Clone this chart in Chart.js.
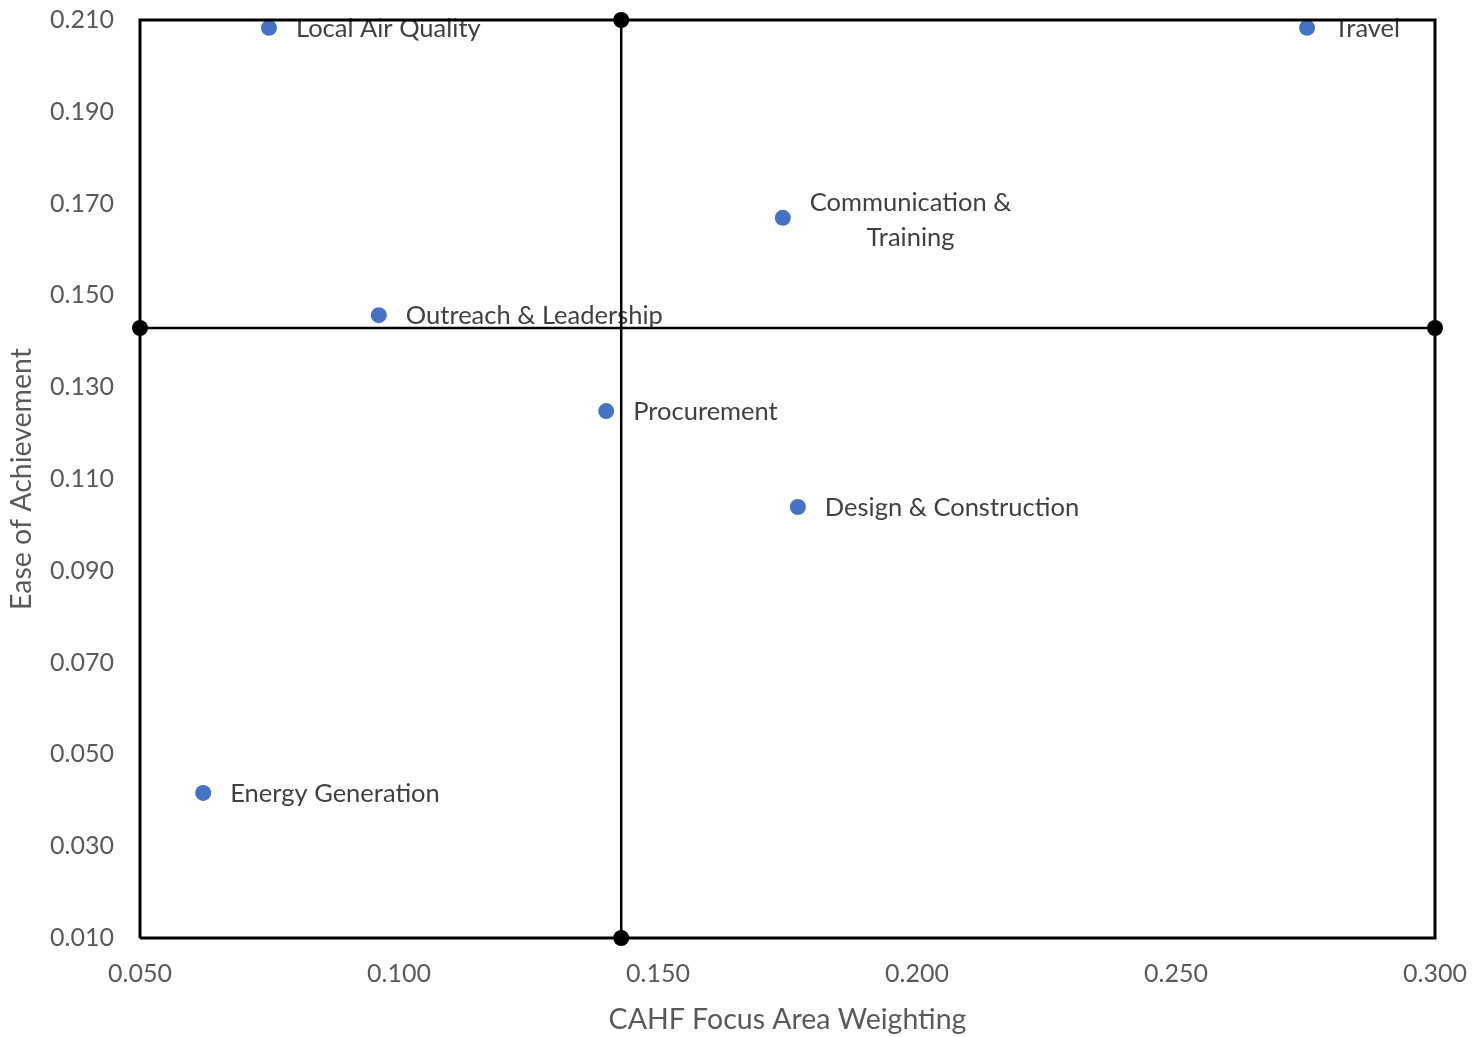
<!DOCTYPE html>
<html>
<head>
<meta charset="utf-8">
<script src="https://cdn.jsdelivr.net/npm/chart.js@4/dist/chart.umd.min.js"></script>
<style>
  html, body { margin: 0; padding: 0; background: #ffffff; }
  #wrap { width: 1473px; height: 1037px; }
</style>
</head>
<body>
<div id="wrap"><canvas id="chart" width="1473" height="1037"></canvas></div>
<script>
// Focus areas: weighting (x) against ease of achievement (y)
const categories = [
  'Local Air Quality',
  'Travel',
  ['Communication &', 'Training'],
  'Outreach & Leadership',
  'Procurement',
  'Design & Construction',
  'Energy Generation'
];
const weighting = [0.0749, 0.2753, 0.1741, 0.0961, 0.1400, 0.1770, 0.0622];
const ease      = [0.2083, 0.2083, 0.1669, 0.1457, 0.1248, 0.1039, 0.0416];

// Quadrant split values (mean weighting / mean ease)
const splitX = 0.1429;
const splitY = 0.1429;

// Axis ranges and ticks
const xMin = 0.05, xMax = 0.30;
const yMin = 0.01, yMax = 0.21;
const xTicks = [0.05, 0.10, 0.15, 0.20, 0.25, 0.30];
const yTicks = [0.01, 0.03, 0.05, 0.07, 0.09, 0.11, 0.13, 0.15, 0.17, 0.19, 0.21];

const FONT = 'Lato, "Open Sans", sans-serif';

const points = weighting.map((x, i) => ({ x: x, y: ease[i] }));
const SCATTER_INDEX = 3;

// Draw the point labels right after the scatter points, beneath the quadrant lines
const pointLabels = {
  id: 'pointLabels',
  afterDatasetDraw(chart, args) {
    if (args.index !== SCATTER_INDEX) return;
    const ctx = chart.ctx;
    const meta = args.meta;
    ctx.save();
    ctx.font = '25.5px ' + FONT;
    ctx.fillStyle = '#404040';
    ctx.textBaseline = 'middle';
    meta.data.forEach((el, i) => {
      const lab = categories[i];
      const x0 = el.x + 27;
      if (Array.isArray(lab)) {
        const widths = lab.map(t => ctx.measureText(t).width);
        const w = Math.max(...widths);
        const lh = 35;
        const top = el.y + 2 - (lab.length - 1) * lh / 2;
        ctx.textAlign = 'center';
        lab.forEach((t, j) => ctx.fillText(t, x0 + w / 2, top + j * lh));
      } else {
        ctx.textAlign = 'left';
        ctx.fillText(lab, x0, el.y + 1);
      }
    });
    ctx.restore();
  }
};

const quadLine = (data, order) => ({
  type: 'line',
  data: data,
  borderColor: '#000000',
  borderWidth: 2.5,
  pointRadius: 8,
  pointBackgroundColor: '#000000',
  pointBorderColor: '#000000',
  pointBorderWidth: 0,
  fill: false,
  tension: 0,
  clip: 12,
  order: order
});

new Chart(document.getElementById('chart'), {
  type: 'scatter',
  data: {
    datasets: [
      {
        // plot frame
        type: 'line',
        data: [
          { x: xMin, y: yMin }, { x: xMin, y: yMax },
          { x: xMax, y: yMax }, { x: xMax, y: yMin }, { x: xMin, y: yMin }
        ],
        borderColor: '#000000',
        borderWidth: 3,
        pointRadius: 0,
        fill: false,
        tension: 0,
        clip: 3,
        order: 0
      },
      quadLine([{ x: splitX, y: yMin }, { x: splitX, y: yMax }], 1),
      quadLine([{ x: xMin, y: splitY }, { x: xMax, y: splitY }], 1),
      {
        data: points,
        pointRadius: 8,
        pointBackgroundColor: '#4472C4',
        pointBorderColor: '#4472C4',
        pointBorderWidth: 0,
        clip: 12,
        order: 2
      }
    ]
  },
  options: {
    responsive: false,
    animation: false,
    layout: { padding: { top: 20, right: 38, left: 0, bottom: 0 } },
    plugins: {
      legend: { display: false },
      tooltip: { enabled: false }
    },
    scales: {
      x: {
        type: 'linear',
        min: xMin,
        max: xMax,
        afterBuildTicks(scale) { scale.ticks = xTicks.map(v => ({ value: v })); },
        afterFit(scale) {
          scale.height = 99;
          scale.paddingLeft = 0;
          scale.paddingRight = 0;
        },
        grid: { display: false, drawTicks: false },
        border: { display: true, color: '#a6a6a6', width: 2 },
        ticks: {
          padding: 21,
          color: '#595959',
          font: { family: FONT, size: 25 },
          callback: v => Number(v).toFixed(3)
        },
        title: {
          display: true,
          text: 'CAHF Focus Area Weighting',
          color: '#595959',
          font: { family: FONT, size: 28.5 },
          padding: { top: 0, bottom: 0 }
        }
      },
      y: {
        type: 'linear',
        min: yMin,
        max: yMax,
        afterBuildTicks(scale) { scale.ticks = yTicks.map(v => ({ value: v })); },
        afterFit(scale) {
          scale.width = 140;
          scale.paddingTop = 0;
          scale.paddingBottom = 0;
        },
        grid: { display: false, drawTicks: false },
        border: { display: true, color: '#a6a6a6', width: 2 },
        ticks: {
          padding: 26,
          color: '#595959',
          font: { family: FONT, size: 25 },
          callback: v => Number(v).toFixed(3)
        },
        title: {
          display: true,
          text: 'Ease of Achievement',
          color: '#595959',
          font: { family: FONT, size: 28.5 },
          padding: { top: 5, bottom: 0 }
        }
      }
    }
  },
  plugins: [pointLabels]
});
</script>
</body>
</html>
